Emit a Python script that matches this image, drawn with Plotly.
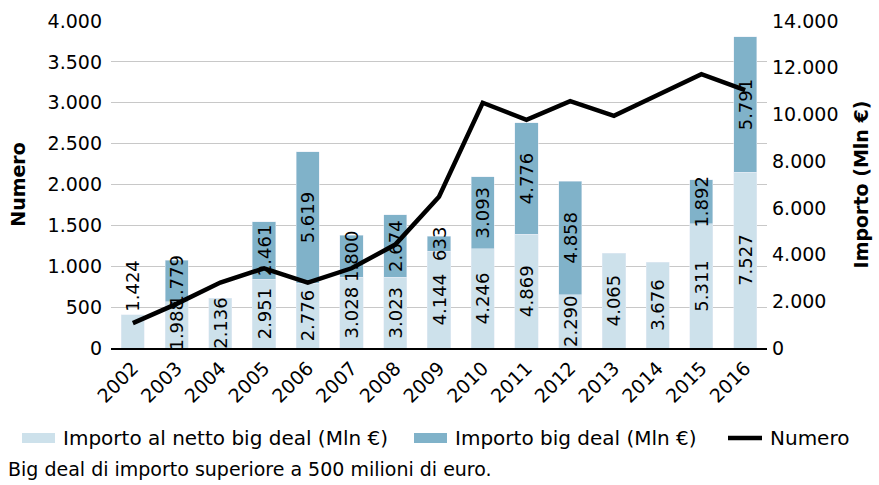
import plotly.graph_objects as go

# dati
anni = ["2002", "2003", "2004", "2005", "2006", "2007", "2008", "2009",
        "2010", "2011", "2012", "2013", "2014", "2015", "2016"]
importo_netto = [1424, 1988, 2136, 2951, 2776, 3028, 3023, 4144,
                 4246, 4869, 2290, 4065, 3676, 5311, 7527]
importo_big = [None, 1779, None, 2461, 5619, 1800, 2674, 633,
               3093, 4776, 4858, None, None, 1892, 5791]
numero = [305, 540, 800, 975, 800, 975, 1265, 1850,
          3000, 2790, 3020, 2840, 3095, 3350, 3155]

nomi = ["Importo al netto big deal (Mln €)", "Importo big deal (Mln €)", "Numero"]


def fmt(v):
    # formato italiano: punto come separatore delle migliaia
    return "" if v is None else f"{v:,}".replace(",", ".")


FONT = "DejaVu Sans"
LIGHT = "#cde1eb"
DARK = "#80b2c9"

# area del grafico in pixel
L, R, T, B = 111, 112, 21, 137
W, H = 879, 485
PW, PH = W - L - R, H - T - B


def px(x):
    return (x - L) / PW


def py(y):
    return (H - B - y) / PH


pos_netto = ["outside" if b is None and i == 0 else "inside" for i, b in enumerate(importo_big)]

fig = go.Figure()

fig.add_trace(go.Bar(
    x=anni, y=importo_netto, name=nomi[0],
    marker_color=LIGHT, text=[fmt(v) for v in importo_netto],
    textposition=pos_netto, textangle=-90, insidetextanchor="middle",
    constraintext="none", cliponaxis=False,
    textfont=dict(family=FONT, size=18, color="black"),
    yaxis="y",
))
fig.add_trace(go.Bar(
    x=anni, y=importo_big, name=nomi[1],
    marker_color=DARK, text=[fmt(v) for v in importo_big],
    textposition="inside", textangle=-90, insidetextanchor="middle",
    constraintext="none", cliponaxis=False,
    textfont=dict(family=FONT, size=18, color="black"),
    yaxis="y",
))
fig.add_trace(go.Scatter(
    x=anni, y=numero, name=nomi[2], mode="lines",
    line=dict(color="black", width=4.5),
    yaxis="y2",
))

# legenda disegnata a mano (simboli rettangolari larghi come nell'originale)
shapes = [
    dict(type="rect", xref="paper", yref="paper", x0=px(22), x1=px(55),
         y0=py(443), y1=py(433), fillcolor=LIGHT, line_width=0),
    dict(type="rect", xref="paper", yref="paper", x0=px(414), x1=px(447),
         y0=py(443), y1=py(433), fillcolor=DARK, line_width=0),
    dict(type="line", xref="paper", yref="paper", x0=px(728), x1=px(762),
         y0=py(438), y1=py(438), line=dict(color="black", width=4.5)),
]
annotations = [
    dict(text=t, xref="paper", yref="paper", x=px(x), y=py(438),
         xanchor="left", yanchor="middle", showarrow=False,
         font=dict(size=20))
    for t, x in zip(nomi, [61, 453, 768])
]
annotations.append(dict(
    text="Big deal di importo superiore a 500 milioni di euro.",
    xref="paper", yref="paper", x=px(6), y=py(469),
    xanchor="left", yanchor="middle", showarrow=False,
    font=dict(size=19),
))

fig.update_layout(
    width=W, height=H,
    margin=dict(l=L, r=R, t=T, b=B),
    plot_bgcolor="white", paper_bgcolor="white",
    barmode="stack", bargap=0.47,
    separators=",.",
    showlegend=False,
    font=dict(family=FONT, size=19, color="black"),
    xaxis=dict(type="category", tickangle=-45, showline=True,
               linecolor="black", linewidth=1.5, showgrid=False,
               automargin=False, tickfont=dict(size=19)),
    # barre sull'asse destro
    yaxis=dict(side="right", range=[0, 14000], dtick=2000, tickformat=",d",
               showgrid=False, zeroline=False, automargin=False,
               ticklabelstandoff=4,
               title=dict(text="<b>Importo (Mln €)</b>", font=dict(size=19),
                          standoff=17)),
    # linea sull'asse sinistro
    yaxis2=dict(side="left", overlaying="y", range=[0, 4000], dtick=500,
                tickformat=",d", showgrid=True, gridcolor="#c8c8c8",
                gridwidth=1, zeroline=False, automargin=False,
                ticklabelstandoff=8,
                title=dict(text="<b>Numero</b>", font=dict(size=19),
                           standoff=16)),
    shapes=shapes,
    annotations=annotations,
)

# niente margine della pagina attorno al grafico
fig.write_html("out.html", config={"displayModeBar": False},
               post_script="document.body.style.margin='0';")
